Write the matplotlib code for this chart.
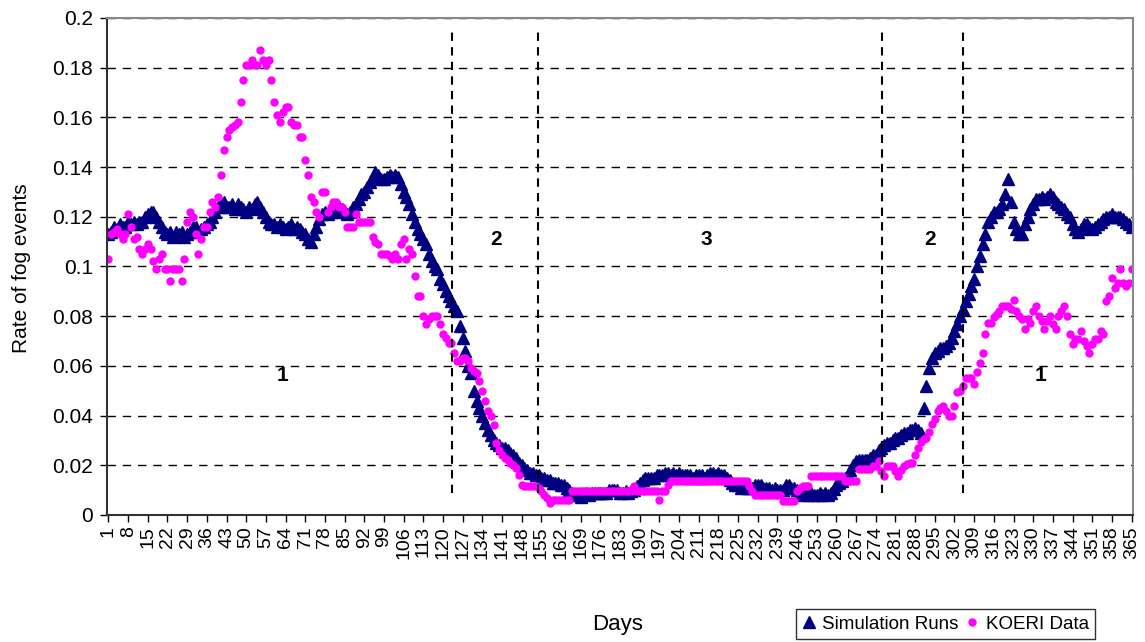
import numpy as np
import matplotlib
matplotlib.use("Agg")
import matplotlib.pyplot as plt

plt.rcParams['font.family'] = ['Liberation Sans', 'DejaVu Sans']

# Tagesdaten (Tag 1 bis 365)
days = np.arange(1, 366)

sim_runs = [
    0.113, 0.114, 0.116, 0.115, 0.117, 0.116, 0.116, 0.118, 0.117, 0.118,  # 1-10
    0.117, 0.118, 0.118, 0.120, 0.121, 0.122, 0.122, 0.120, 0.118, 0.116,
    0.114, 0.113, 0.114, 0.112, 0.114, 0.113, 0.114, 0.112, 0.113, 0.114,
    0.116, 0.116, 0.114, 0.115, 0.116, 0.117, 0.118, 0.120, 0.122, 0.124,
    0.125, 0.126, 0.124, 0.124, 0.125, 0.123, 0.125, 0.124, 0.123, 0.122,
    0.124, 0.123, 0.125, 0.126, 0.124, 0.122, 0.120, 0.118, 0.117, 0.117,
    0.116, 0.117, 0.116, 0.115, 0.116, 0.117, 0.115, 0.116, 0.115, 0.114,
    0.113, 0.111, 0.110, 0.113, 0.116, 0.119, 0.121, 0.122, 0.121, 0.122,
    0.123, 0.122, 0.124, 0.123, 0.122, 0.121, 0.122, 0.124, 0.125, 0.127,
    0.129, 0.130, 0.132, 0.134, 0.136, 0.138, 0.137, 0.135, 0.135, 0.136,  # 91-100
    0.137, 0.136, 0.137, 0.136, 0.133, 0.130, 0.128, 0.125, 0.121, 0.118,
    0.115, 0.113, 0.111, 0.109, 0.105, 0.102, 0.100, 0.099, 0.095, 0.093,
    0.090, 0.088, 0.086, 0.084, 0.082, 0.076, 0.071, 0.066, 0.060, 0.057,
    0.050, 0.046, 0.043, 0.040, 0.037, 0.034, 0.032, 0.030, 0.029, 0.028,
    0.027, 0.027, 0.026, 0.025, 0.024, 0.023, 0.021, 0.020, 0.019, 0.018,
    0.017, 0.017, 0.016, 0.016, 0.015, 0.015, 0.014, 0.014, 0.013, 0.013,
    0.013, 0.012, 0.012, 0.011, 0.010, 0.009, 0.008, 0.008, 0.007, 0.008,
    0.009, 0.008, 0.009, 0.009, 0.009, 0.009, 0.009, 0.009, 0.010, 0.010,
    0.010, 0.010, 0.009, 0.009, 0.0095, 0.009, 0.0095, 0.010, 0.0115, 0.013,
    0.014, 0.015, 0.015, 0.015, 0.015, 0.016, 0.016, 0.016, 0.017, 0.017,  # 191-200
    0.016, 0.017, 0.016, 0.017, 0.016, 0.016, 0.016, 0.016, 0.015, 0.016,
    0.016, 0.016, 0.015, 0.016, 0.017, 0.017, 0.016, 0.017, 0.016, 0.016,
    0.015, 0.014, 0.013, 0.012, 0.012, 0.011, 0.012, 0.011, 0.011, 0.011,
    0.012, 0.012, 0.012, 0.011, 0.011, 0.011, 0.010, 0.011, 0.010, 0.010,
    0.010, 0.012, 0.012, 0.011, 0.011, 0.010, 0.009, 0.008, 0.009, 0.008,
    0.009, 0.008, 0.008, 0.009, 0.008, 0.009, 0.008, 0.009, 0.0105, 0.012,
    0.013, 0.0135, 0.015, 0.016, 0.018, 0.020, 0.0215, 0.022, 0.022, 0.022,
    0.022, 0.023, 0.024, 0.024, 0.026, 0.027, 0.028, 0.029, 0.029, 0.030,
    0.031, 0.031, 0.032, 0.033, 0.033, 0.034, 0.034, 0.035, 0.034, 0.033,
    0.043, 0.052, 0.059, 0.063, 0.065, 0.066, 0.067, 0.067, 0.068, 0.069,  # 291-300
    0.071, 0.074, 0.077, 0.080, 0.083, 0.086, 0.089, 0.092, 0.095, 0.100,
    0.104, 0.109, 0.113, 0.118, 0.120, 0.122, 0.122, 0.123, 0.125, 0.129,
    0.135, 0.126, 0.118, 0.115, 0.113, 0.113, 0.117, 0.120, 0.123, 0.125,
    0.127, 0.127, 0.128, 0.127, 0.128, 0.129, 0.128, 0.126, 0.125, 0.124,
    0.123, 0.121, 0.120, 0.117, 0.115, 0.114, 0.115, 0.117, 0.117, 0.116,
    0.115, 0.116, 0.117, 0.118, 0.119, 0.120, 0.120, 0.121, 0.120, 0.120,
    0.120, 0.119, 0.118, 0.117, 0.116,  # 361-365
]

koeri = [
    0.103, 0.113, 0.114, 0.115, 0.113, 0.111, 0.113, 0.121, 0.116, 0.111,  # 1-10
    0.112, 0.107, 0.105, 0.107, 0.109, 0.107, 0.102, 0.099, 0.103, 0.105,
    0.099, 0.099, 0.094, 0.099, 0.099, 0.099, 0.094, 0.103, 0.118, 0.122,
    0.120, 0.113, 0.105, 0.111, 0.116, 0.116, 0.122, 0.126, 0.124, 0.128,
    0.137, 0.147, 0.152, 0.155, 0.156, 0.157, 0.158, 0.166, 0.175, 0.181,
    0.181, 0.183, 0.181, 0.181, 0.187, 0.183, 0.181, 0.183, 0.175, 0.166,
    0.161, 0.158, 0.162, 0.164, 0.164, 0.158, 0.157, 0.157, 0.152, 0.152,
    0.143, 0.137, 0.128, 0.126, 0.122, 0.120, 0.130, 0.130, 0.122, 0.124,
    0.126, 0.126, 0.124, 0.124, 0.122, 0.116, 0.116, 0.116, 0.121, 0.118,
    0.118, 0.118, 0.118, 0.118, 0.112, 0.110, 0.109, 0.105, 0.105, 0.105,  # 91-100
    0.104, 0.103, 0.105, 0.103, 0.109, 0.111, 0.103, 0.107, 0.105, 0.096,
    0.088, 0.088, 0.080, 0.077, 0.079, 0.080, 0.080, 0.080, 0.077, 0.073,
    0.071, 0.069, 0.069, 0.065, 0.062, 0.062, 0.063, 0.063, 0.062, 0.059,
    0.058, 0.057, 0.054, 0.050, 0.046, 0.042, 0.040, 0.036, 0.029, 0.026,
    0.024, 0.023, 0.022, 0.021, 0.020, 0.019, 0.016, 0.012, 0.0115, 0.0115,
    0.0115, 0.0115, 0.0115, 0.011, 0.0095, 0.008, 0.0067, 0.0047, 0.006, 0.006,
    0.006, 0.006, 0.006, 0.006, 0.006, 0.0096, 0.0096, 0.0096, 0.0096, 0.0096,
    0.0096, 0.0096, 0.0096, 0.0096, 0.0096, 0.0096, 0.0096, 0.0096, 0.0096, 0.0096,
    0.0096, 0.0096, 0.0096, 0.0096, 0.0096, 0.0096, 0.0096, 0.0115, 0.0096, 0.0096,
    0.0096, 0.0096, 0.0096, 0.0096, 0.0096, 0.0096, 0.006, 0.0096, 0.0096, 0.012,  # 191-200
    0.0137, 0.0137, 0.0137, 0.0137, 0.0137, 0.0137, 0.0137, 0.0137, 0.0137, 0.0137,
    0.0137, 0.0137, 0.0137, 0.0137, 0.0137, 0.0137, 0.0137, 0.0137, 0.0137, 0.0137,
    0.0137, 0.0137, 0.0137, 0.0137, 0.0137, 0.0137, 0.0137, 0.0137, 0.0115, 0.0096,
    0.0082, 0.0082, 0.0082, 0.0082, 0.0082, 0.0082, 0.0082, 0.0082, 0.0082, 0.0082,
    0.0055, 0.0055, 0.0055, 0.0055, 0.0055, 0.0096, 0.011, 0.0115, 0.0115, 0.0115,
    0.0155, 0.0155, 0.0155, 0.0155, 0.0155, 0.0155, 0.0155, 0.0155, 0.0155, 0.0155,
    0.0155, 0.0155, 0.0137, 0.0137, 0.0137, 0.0137, 0.0137, 0.0185, 0.0185, 0.0185,
    0.0185, 0.0185, 0.0195, 0.0195, 0.0215, 0.0175, 0.0155, 0.0195, 0.0195, 0.0195,
    0.0175, 0.0155, 0.018, 0.0195, 0.0205, 0.021, 0.021, 0.024, 0.027, 0.0295,
    0.0305, 0.031, 0.0335, 0.0365, 0.0385, 0.042, 0.043, 0.044, 0.042, 0.040,  # 291-300
    0.040, 0.044, 0.0495, 0.0498, 0.052, 0.055, 0.055, 0.055, 0.0525, 0.0575,
    0.061, 0.065, 0.0727, 0.0774, 0.0774, 0.0797, 0.081, 0.0821, 0.0841, 0.0841,
    0.0841, 0.083, 0.0865, 0.082, 0.0801, 0.0787, 0.0747, 0.0787, 0.0774, 0.0821,
    0.0841, 0.0801, 0.078, 0.0747, 0.078, 0.0801, 0.0767, 0.0747, 0.0801, 0.082,
    0.0841, 0.0801, 0.0727, 0.0686, 0.0707, 0.0707, 0.074, 0.070, 0.068, 0.065,
    0.0686, 0.0707, 0.0707, 0.074, 0.0727, 0.0861, 0.0881, 0.0955, 0.0915, 0.0935,
    0.0989, 0.0935, 0.0922, 0.0935, 0.0989,  # 361-365
]

assert len(sim_runs) == 365 and len(koeri) == 365

# Grenzen der Jahreszeit-Abschnitte (Tage) und Beschriftung der Abschnitte
season_bounds = [123.3, 153.9, 276.3, 305.1]
zone_labels = ['1', '2', '3', '2', '1']
zone_x = [62.8, 138.9, 213.7, 293.4, 332.5]
zone_y = [0.056, 0.111, 0.111, 0.111, 0.056]

tick_days = list(range(1, 366, 7))

fig = plt.figure(figsize=(11.45, 6.42), dpi=100)
ax = fig.add_axes([0.0935, 0.198, 0.896, 0.774])

ax.plot(days, sim_runs, linestyle='none', marker='^', markersize=8,
        color='#000080', label='Simulation Runs')
ax.plot(days, koeri, linestyle='none', marker='o', markersize=5,
        color='#FF00FF', label='KOERI Data')

# Abschnittsgrenzen
ax.vlines(season_bounds, 0.009, 0.195, colors='black', linestyles=(0, (4, 3)),
          linewidth=1.5)
for lab, xx, yy in zip(zone_labels, zone_x, zone_y):
    ax.text(xx, yy, lab, fontsize=15, fontweight='bold', ha='center', va='center')

ax.set_xlim(0.5, 365.5)
ax.set_ylim(0, 0.2)
ax.set_yticks(np.arange(0, 0.201, 0.02))
ax.set_yticklabels(['0', '0.02', '0.04', '0.06', '0.08', '0.1', '0.12',
                    '0.14', '0.16', '0.18', '0.2'])
ax.set_xticks(tick_days)
ax.set_xticklabels([str(d) for d in tick_days], rotation=90)
ax.tick_params(axis='x', labelsize=14, direction='out', length=5, width=1, pad=3)
ax.tick_params(axis='y', labelsize=15, direction='out', length=5, width=1, pad=5)

ax.yaxis.grid(True, linestyle=(0, (6, 5)), color='black', linewidth=1)
ax.set_axisbelow(True)
for side in ['left', 'bottom']:
    ax.spines[side].set_color('#333333')
    ax.spines[side].set_linewidth(1.5)
for side in ['top', 'right']:
    ax.spines[side].set_color('#888888')
    ax.spines[side].set_linewidth(1.5)

fig.text(0.0192, 0.583, 'Rate of fog events', rotation=90, fontsize=15,
         ha='center', va='center')
fig.text(0.539, 0.027, 'Days', fontsize=16, ha='center', va='center')

leg = fig.legend(loc='center', bbox_to_anchor=(0.8258, 0.028), ncol=2,
                 fontsize=13.5, frameon=True, fancybox=False, handlelength=0.7,
                 handletextpad=0.35, columnspacing=0.4, borderpad=0.35,
                 markerscale=1.0)
leg.get_frame().set_edgecolor('black')
leg.get_frame().set_linewidth(1)

fig.savefig('out.png', dpi=100)
